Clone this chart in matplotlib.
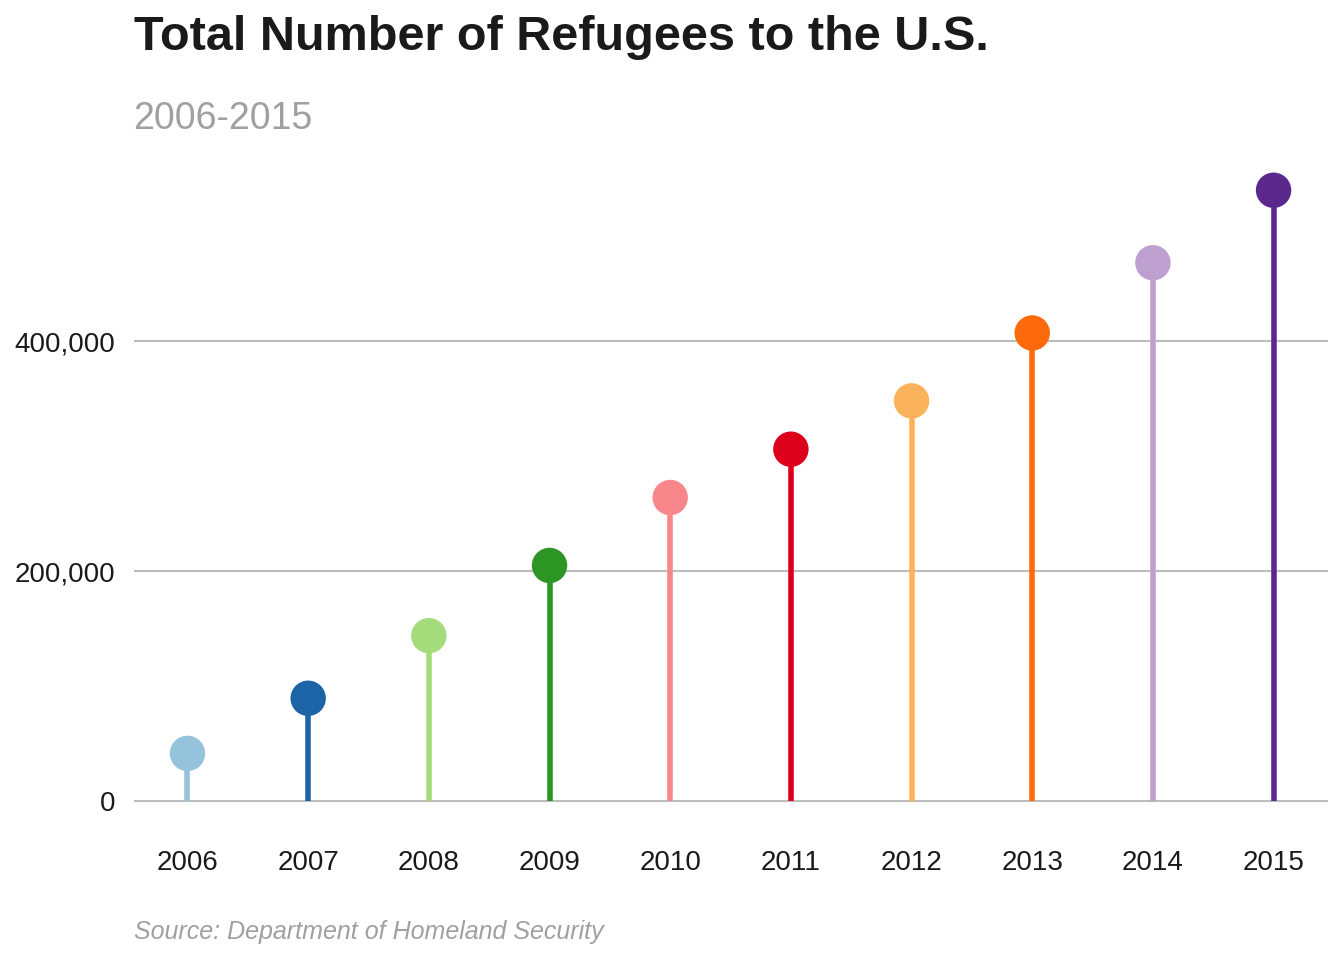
import matplotlib.pyplot as plt
from matplotlib.ticker import FuncFormatter

years = [2006, 2007, 2008, 2009, 2010, 2011, 2012, 2013, 2014, 2015]
refugees = [41700, 89600, 144000, 205000, 264000, 306000, 348000, 407000, 468000, 531000]
colors = ["#95c3dc", "#1c64a6", "#a4dc7c", "#2c9523", "#f7878a",
          "#dc001b", "#fab25b", "#fd6a0c", "#bea0d0", "#5b288e"]

plt.rcParams["font.family"] = ["Liberation Sans", "DejaVu Sans"]
fig = plt.figure(figsize=(13.44, 9.6), dpi=100)
ax = fig.add_axes([0.1, 0.135, 0.888, 0.698])

for y in (0, 200000, 400000):
    ax.axhline(y, color="#bdbdbd", lw=1.5, zorder=0)
for x, v, c in zip(years, refugees, colors):
    ax.vlines(x, 0, v, color=c, lw=4, zorder=2)
    ax.scatter(x, v, s=650, color=c, zorder=3, edgecolors="none")

ax.set_xlim(2005.56, 2015.45)
ax.set_ylim(-25200, 557000)
ax.set_yticks([0, 200000, 400000])
ax.yaxis.set_major_formatter(FuncFormatter(lambda v, p: f"{int(v):,}"))
ax.set_xticks(years)
ax.tick_params(length=0, labelsize=20, colors="#1a1a1a")
ax.tick_params(axis="x", pad=14)
ax.tick_params(axis="y", pad=14)
for s in ax.spines.values():
    s.set_visible(False)

fig.text(0.1, 0.948, "Total Number of Refugees to the U.S.", fontsize=35,
         fontweight="bold", color="#1a1a1a", va="baseline")
fig.text(0.099, 0.866, "2006-2015", fontsize=27, color="#a0a0a0", va="baseline")
fig.text(0.1, 0.022, "Source: Department of Homeland Security", fontsize=18,
         style="italic", color="#a0a0a0", va="baseline")

fig.savefig("out.png", dpi=100)
